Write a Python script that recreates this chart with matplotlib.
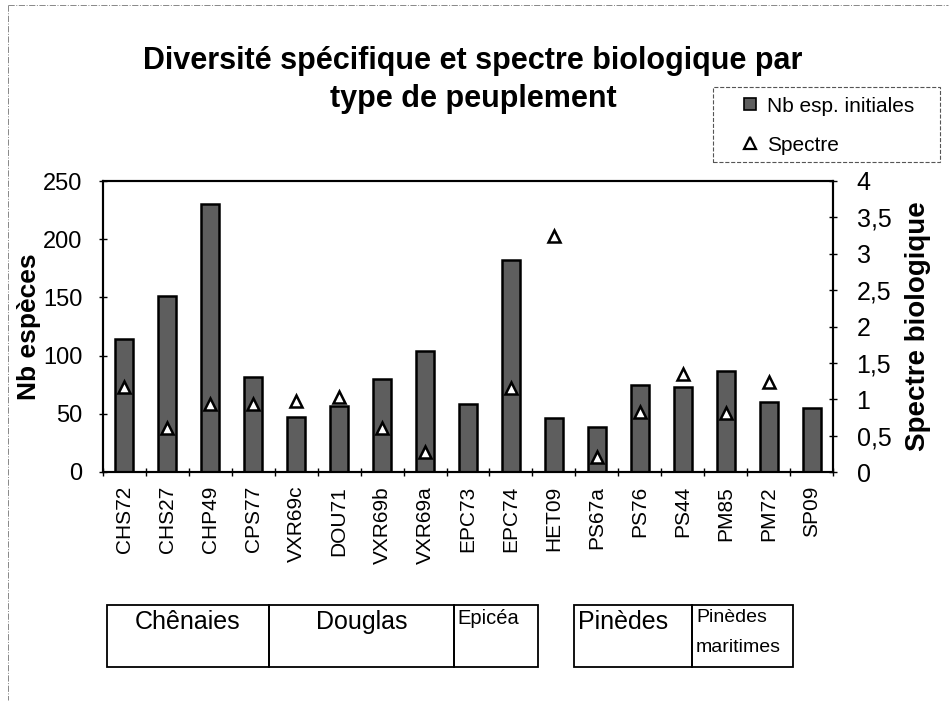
import numpy as np
import matplotlib.pyplot as plt
from matplotlib.patches import Rectangle
from matplotlib.lines import Line2D

plt.rcParams['font.family'] = ['Liberation Sans', 'DejaVu Sans']

# données
stations = ['CHS72', 'CHS27', 'CHP49', 'CPS77', 'VXR69c', 'DOU71', 'VXR69b', 'VXR69a',
            'EPC73', 'EPC74', 'HET09', 'PS67a', 'PS76', 'PS44', 'PM85', 'PM72', 'SP09']
nb_especes = [114, 151, 230, 82, 47, 57, 80, 104, 58, 182, 46, 39, 75, 73, 87, 60, 55]
spectre = [1.17, 0.61, 0.94, 0.94, 0.98, 1.03, 0.61, 0.28, np.nan, 1.16, 3.24, 0.20,
           0.82, 1.35, 0.81, 1.24, np.nan]

groupes = ['Chênaies', 'Douglas', 'Epicéa', 'Pinèdes', 'Pinèdes\nmaritimes']
titre = ['Diversité spécifique et spectre biologique par', 'type de peuplement']

W, H = 950, 701
fig = plt.figure(figsize=(W / 100, H / 100), dpi=100)

def fx(px):
    return px / W

def fy(py):
    return 1 - py / H

ax = fig.add_axes([fx(103), fy(472), fx(833) - fx(103), fy(181) - fy(472)])
ax2 = ax.twinx()

x = np.arange(len(stations))
ax.bar(x, nb_especes, width=0.42, color='#5e5e5e', edgecolor='black', linewidth=1.8, zorder=2)
ax2.plot(x, spectre, linestyle='none', marker='^', markersize=9, markerfacecolor='white',
         markeredgecolor='black', markeredgewidth=1.8, zorder=3)

ax.set_xlim(-0.5, len(stations) - 0.5)
ax.set_ylim(0, 250)
ax2.set_ylim(0, 4)
ax.set_yticks(range(0, 251, 50))
ax2.set_yticks(np.arange(0, 4.01, 0.5))
ax2.set_yticklabels([f'{v:g}'.replace('.', ',') for v in np.arange(0, 4.01, 0.5)])

ax.set_xticks(x)
ax.set_xticklabels(stations, rotation=90, fontsize=15)
ax.set_xticks(np.arange(-0.5, len(stations), 1), minor=True)
ax.tick_params(axis='x', which='major', length=0, pad=10)
ax.tick_params(axis='x', which='minor', length=6, direction='inout', width=1)
ax.tick_params(axis='y', labelsize=17, length=6, direction='inout', width=1, pad=12)
ax2.tick_params(axis='y', labelsize=18, length=6, direction='inout', width=1, pad=14)

for a in (ax, ax2):
    for s in a.spines.values():
        s.set_linewidth(1.5)

ax.set_ylabel('Nb espèces', fontsize=19, fontweight='bold', va='center')
ax.yaxis.set_label_coords((29 - 103) / 730, 0.5)
ax2.set_ylabel('Spectre biologique', fontsize=20, fontweight='bold', va='center')
ax2.yaxis.set_label_coords((918 - 103) / 730, 0.5)

# titre sur deux lignes
fig.text(fx(473), fy(61), titre[0], ha='center', va='center', fontsize=22, fontweight='bold')
fig.text(fx(473), fy(99), titre[1], ha='center', va='center', fontsize=22, fontweight='bold')

# légende
fig.add_artist(Rectangle((fx(713), fy(162)), fx(940) - fx(713), fy(87) - fy(162),
                         transform=fig.transFigure, fill=False, edgecolor='#555555',
                         linestyle='--', linewidth=0.8))
handles = [Line2D([], [], linestyle='none', marker='s', markersize=9, markerfacecolor='#5e5e5e',
                  markeredgecolor='black', markeredgewidth=1.2),
           Line2D([], [], linestyle='none', marker='^', markersize=8, markerfacecolor='white',
                  markeredgecolor='black', markeredgewidth=1.6)]
fig.legend(handles, ['Nb esp. initiales', 'Spectre'], loc='upper left',
           bbox_to_anchor=(fx(723), fy(78)), frameon=False, fontsize=15,
           handlelength=0.8, handletextpad=0.4, labelspacing=0.95)

# tableau des types de peuplement
boites = [(107, 269), (269, 454), (454, 538), (574, 692), (692, 793)]
for (x0, x1), nom in zip(boites, groupes):
    fig.add_artist(Rectangle((fx(x0), fy(667)), fx(x1) - fx(x0), fy(605) - fy(667),
                             transform=fig.transFigure, fill=False, edgecolor='black',
                             linewidth=1.3))
    if '\n' in nom:
        fig.text(fx(x0 + 4), fy(609), nom, ha='left', va='top', fontsize=14,
                 linespacing=2.0)
    elif nom == 'Epicéa':
        fig.text(fx(x0 + 3), fy(609), nom, ha='left', va='top', fontsize=14.5)
    elif nom == 'Pinèdes':
        fig.text(fx(x0 + 4), fy(622), nom, ha='left', va='center', fontsize=18)
    else:
        fig.text(fx((x0 + x1) / 2), fy(622), nom, ha='center', va='center', fontsize=18)

# cadre pointillé autour du graphique
fig.add_artist(Line2D([fx(8), fx(8)], [fy(5), fy(700)], transform=fig.transFigure,
                      color='#888888', linestyle='-.', linewidth=0.7))
fig.add_artist(Line2D([fx(8), fx(948)], [fy(5), fy(5)], transform=fig.transFigure,
                      color='#888888', linestyle='-.', linewidth=0.7))

fig.savefig('out.png', dpi=100)
